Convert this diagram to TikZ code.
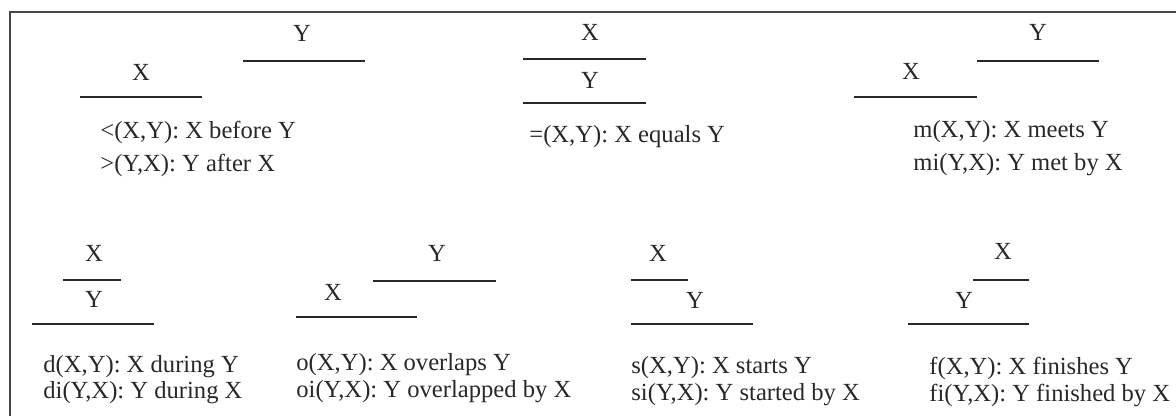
\documentclass[tikz,border=0pt]{standalone}
\usepackage{fontspec}
\setmainfont{Liberation Serif}
\usepackage{xcolor}
\definecolor{framegray}{RGB}{70,70,70}
\definecolor{inkgray}{RGB}{40,40,40}

\begin{document}
\begin{tikzpicture}[x=0.5pt, y=-0.5pt,
  bar/.style={line width=1pt, inkgray},
  lbl/.style={inner sep=0pt, font=\fontsize{12.3}{14}\selectfont, inkgray},
  rel/.style={lbl, anchor=west}]
\useasboundingbox (0,0) rectangle (1176,416);
\draw[line width=1.1pt, framegray] (1176,12) -- (10,12) -- (10,416);

% before / after
\node[lbl] (bY) at (302,33) {Y};
\draw[bar] (243,61) -- (365,61);
\node[lbl] (bX) at (141,72) {X};
\draw[bar] (80,97) -- (202,97);
\node[rel] (b1) at (100,132) {<(X,Y): X before Y};
\node[rel] (b2) at (100,165) {>(Y,X): Y after X};

% equals
\node[lbl] (eX) at (590,32) {X};
\draw[bar] (523,59) -- (646,59);
\node[lbl] (eY) at (590,80) {Y};
\draw[bar] (523,103) -- (646,103);
\node[rel] (e1) at (529,137) {=(X,Y): X equals Y};

% meets
\node[lbl] (mY) at (1038,32) {Y};
\draw[bar] (977,61) -- (1099,61);
\node[lbl] (mX) at (911,71) {X};
\draw[bar] (854,97) -- (977,97);
\node[rel] (m1) at (913,132) {m(X,Y): X meets Y};
\node[rel] (m2) at (913,165) {mi(Y,X): Y met by X};

% during
\node[lbl] (dX) at (94,253) {X};
\draw[bar] (63,280) -- (121,280);
\node[lbl] (dY) at (94,299) {Y};
\draw[bar] (32,324) -- (154,324);
\node[rel] (d1) at (43,367) {d(X,Y): X during Y};
\node[rel] (d2) at (43,393) {di(Y,X): Y during X};

% overlaps
\node[lbl] (oY) at (437,253) {Y};
\draw[bar] (373,281) -- (496,281);
\node[lbl] (oX) at (333,292) {X};
\draw[bar] (296,317) -- (417,317);
\node[rel] (o1) at (296,365) {o(X,Y): X overlaps Y};
\node[rel] (o2) at (296,392) {oi(Y,X): Y overlapped by X};

% starts
\node[lbl] (sX) at (658,253) {X};
\draw[bar] (631,280) -- (688,280);
\node[lbl] (sY) at (695,300) {Y};
\draw[bar] (631,324) -- (753,324);
\node[rel] (s1) at (631,368) {s(X,Y): X starts Y};
\node[rel] (s2) at (631,395) {si(Y,X): Y started by X};

% finishes
\node[lbl] (fX) at (1003,251) {X};
\draw[bar] (973,280) -- (1029,280);
\node[lbl] (fY) at (964,300) {Y};
\draw[bar] (908,324) -- (1029,324);
\node[rel] (f1) at (929,368) {f(X,Y): X finishes Y};
\node[rel] (f2) at (929,395) {fi(Y,X): Y finished by X};
\end{tikzpicture}
\end{document}
